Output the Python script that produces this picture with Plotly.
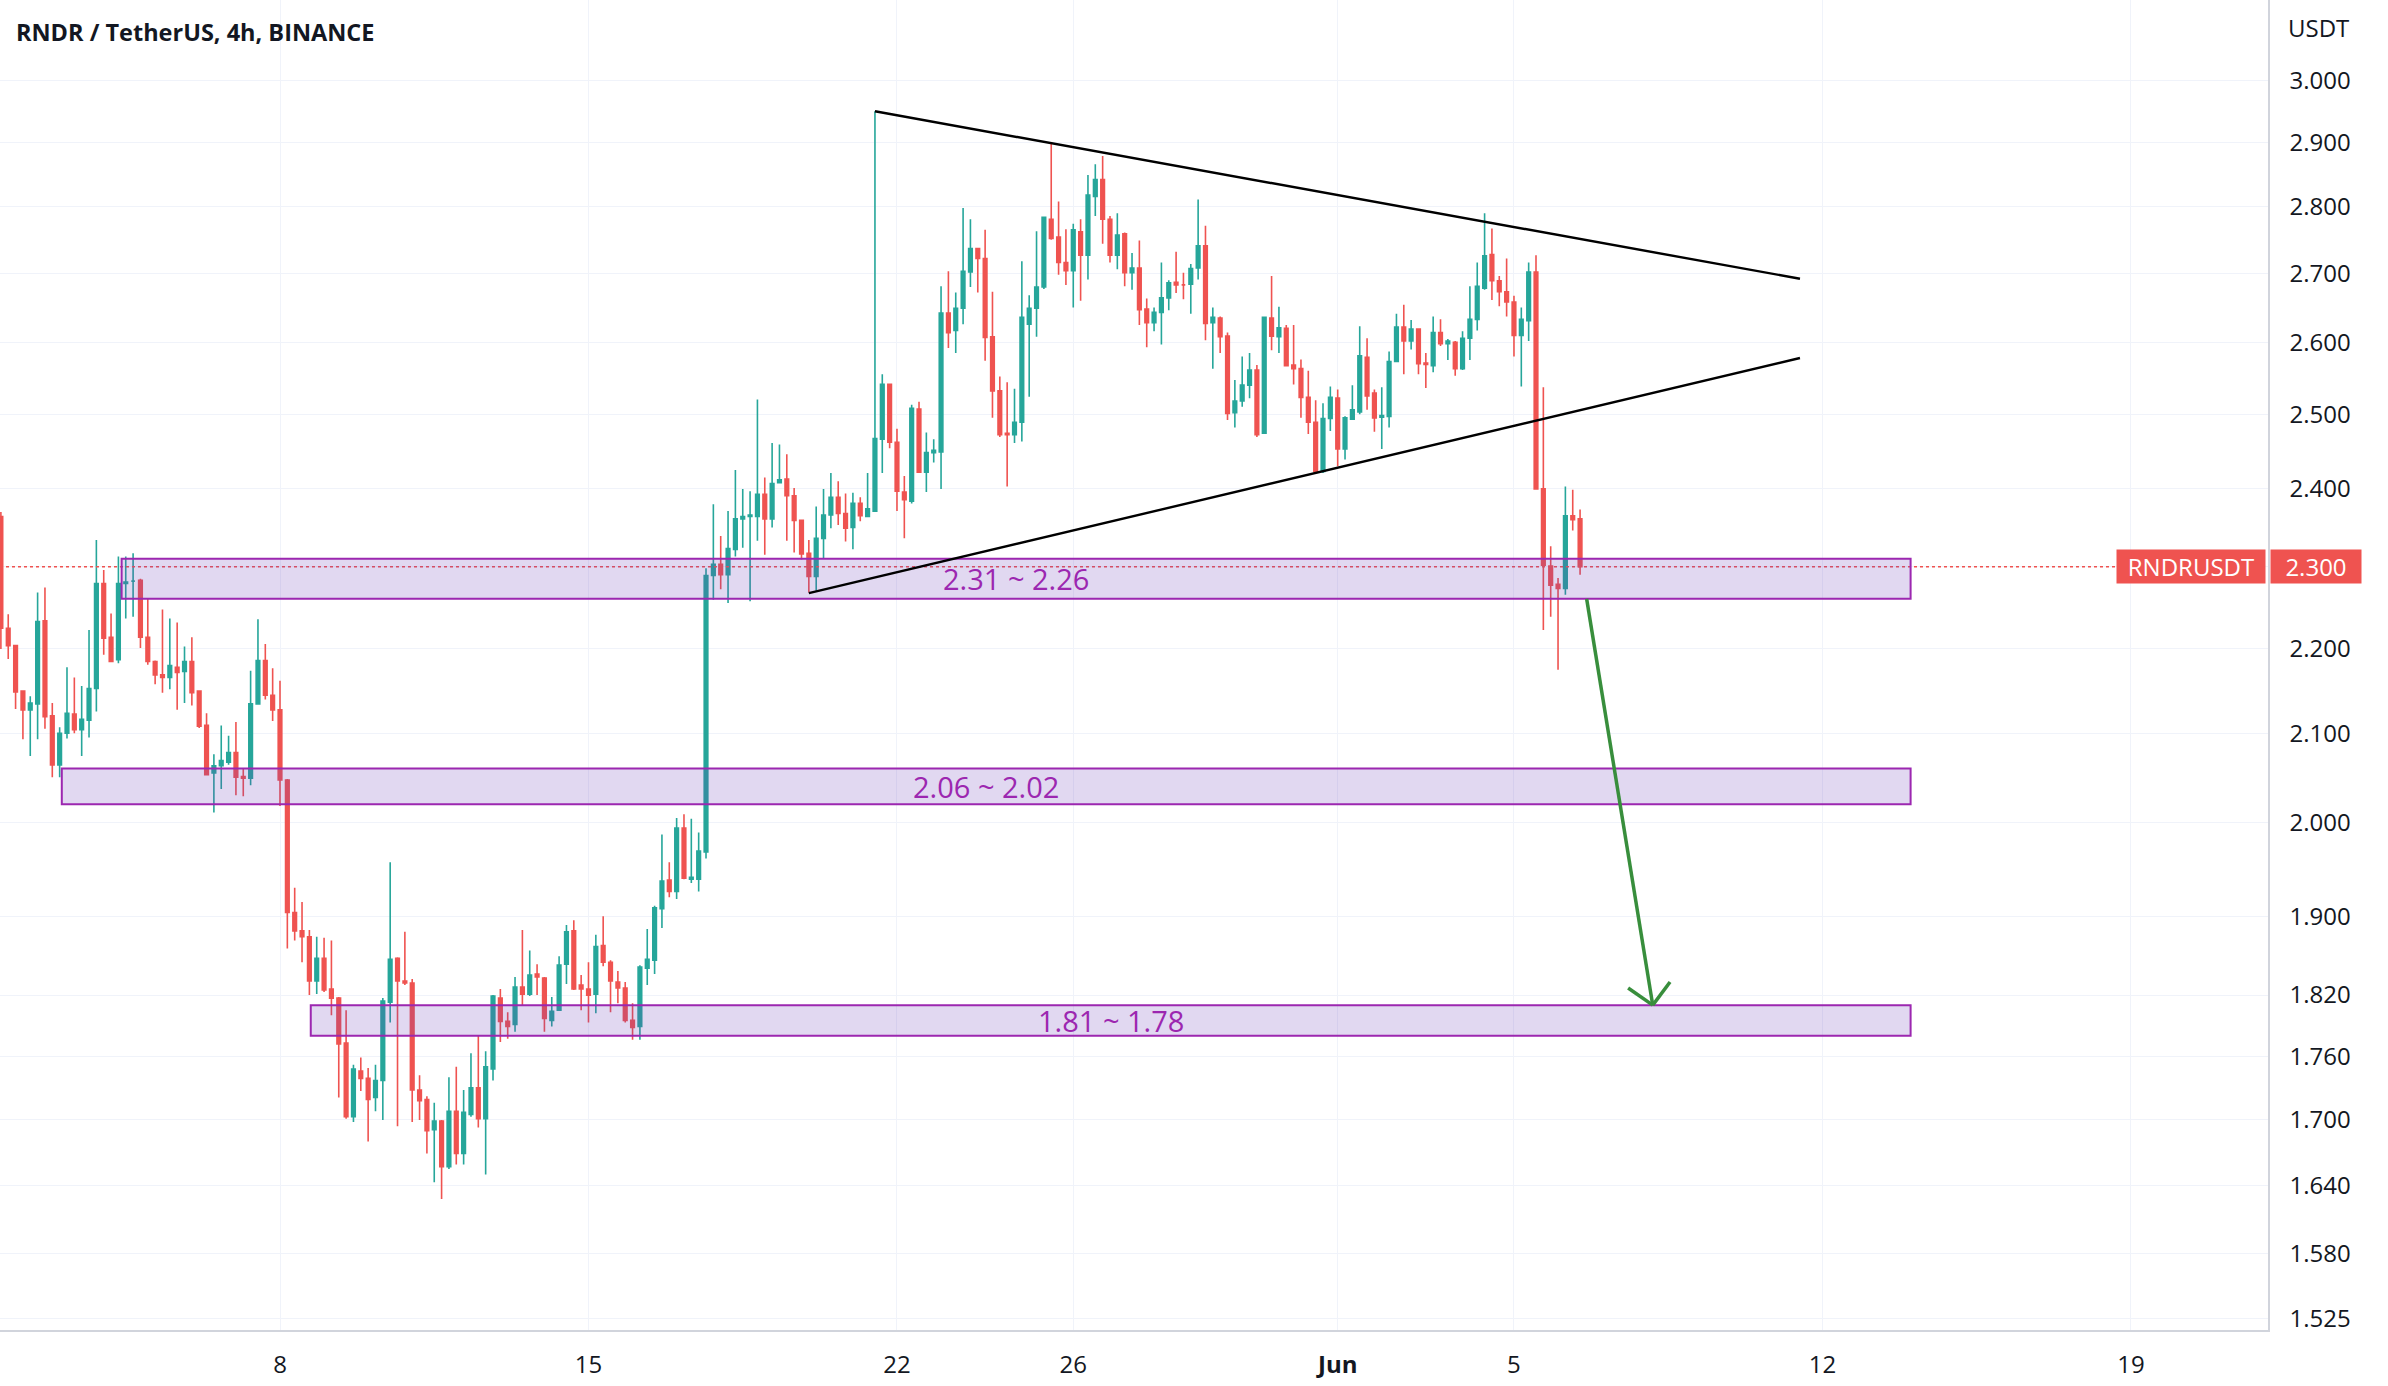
import numpy as np
import pandas as pd
import plotly.graph_objects as go

# ---------------- data ----------------
first_bar = "2023-05-01 16:00"   # 4h bars

opens = [2.364, 2.224, 2.203, 2.149, 2.127, 2.134, 2.233, 2.120, 2.064, 2.100,
         2.122, 2.104, 2.115, 2.152, 2.279, 2.213, 2.186, 2.279, 2.282, 2.283,
         2.213, 2.184, 2.168, 2.165, 2.177, 2.172, 2.184, 2.149, 2.109, 2.055,
         2.063, 2.067, 2.078, 2.051, 2.049, 2.134, 2.185, 2.144, 2.127, 2.047,
         1.904, 1.885, 1.879, 1.834, 1.857, 1.826, 1.817, 1.773, 1.703, 1.746,
         1.739, 1.721, 1.737, 1.813, 1.857, 1.834, 1.832, 1.728, 1.719, 1.691,
         1.699, 1.657, 1.708, 1.669, 1.705, 1.730, 1.701, 1.748, 1.817, 1.794,
         1.791, 1.828, 1.821, 1.841, 1.837, 1.795, 1.805, 1.851, 1.885, 1.830,
         1.826, 1.821, 1.870, 1.853, 1.833, 1.827, 1.795, 1.789, 1.847, 1.855,
         1.908, 1.938, 1.926, 1.994, 1.939, 1.939, 1.968, 2.289, 2.303, 2.290,
         2.322, 2.361, 2.364, 2.364, 2.393, 2.361, 2.408, 2.413, 2.391, 2.359,
         2.317, 2.288, 2.336, 2.366, 2.389, 2.368, 2.350, 2.381, 2.364, 2.371,
         2.466, 2.541, 2.462, 2.396, 2.384, 2.507, 2.422, 2.448, 2.449, 2.642,
         2.617, 2.649, 2.702, 2.737, 2.722, 2.608, 2.532, 2.474, 2.472, 2.489,
         2.626, 2.649, 2.680, 2.781, 2.754, 2.716, 2.704, 2.762, 2.727, 2.816,
         2.842, 2.781, 2.727, 2.759, 2.701, 2.708, 2.648, 2.628, 2.643, 2.664,
         2.687, 2.683, 2.684, 2.708, 2.741, 2.628, 2.635, 2.609, 2.502, 2.518,
         2.540, 2.561, 2.474, 2.635, 2.608, 2.620, 2.568, 2.563, 2.523, 2.489,
         2.423, 2.494, 2.522, 2.453, 2.493, 2.503, 2.579, 2.529, 2.496, 2.497,
         2.573, 2.622, 2.602, 2.619, 2.571, 2.567, 2.614, 2.598, 2.600, 2.563,
         2.606, 2.633, 2.678, 2.728, 2.689, 2.673, 2.658, 2.610, 2.631, 2.702,
         2.400, 2.301, 2.278, 2.273, 2.365, 2.361]

highs = [2.370, 2.241, 2.204, 2.150, 2.143, 2.268, 2.274, 2.135, 2.107, 2.177,
         2.165, 2.155, 2.222, 2.334, 2.296, 2.242, 2.313, 2.313, 2.317, 2.285,
         2.260, 2.185, 2.247, 2.236, 2.231, 2.202, 2.213, 2.150, 2.123, 2.076,
         2.109, 2.097, 2.113, 2.060, 2.173, 2.235, 2.205, 2.176, 2.161, 2.048,
         1.930, 1.915, 1.886, 1.879, 1.878, 1.875, 1.818, 1.805, 1.752, 1.759,
         1.749, 1.752, 1.817, 1.957, 1.858, 1.884, 1.836, 1.742, 1.722, 1.716,
         1.700, 1.740, 1.750, 1.728, 1.763, 1.780, 1.765, 1.820, 1.826, 1.803,
         1.838, 1.886, 1.865, 1.851, 1.838, 1.818, 1.859, 1.891, 1.896, 1.840,
         1.853, 1.881, 1.900, 1.855, 1.844, 1.833, 1.812, 1.850, 1.887, 1.911,
         1.987, 1.957, 2.005, 2.009, 2.004, 1.989, 2.298, 2.380, 2.339, 2.371,
         2.425, 2.400, 2.397, 2.520, 2.415, 2.461, 2.459, 2.446, 2.401, 2.360,
         2.334, 2.377, 2.400, 2.421, 2.410, 2.394, 2.395, 2.389, 2.421, 2.950,
         2.555, 2.542, 2.480, 2.417, 2.513, 2.517, 2.475, 2.466, 2.681, 2.703,
         2.672, 2.798, 2.781, 2.738, 2.765, 2.673, 2.552, 2.544, 2.535, 2.718,
         2.668, 2.763, 2.785, 2.900, 2.808, 2.766, 2.774, 2.781, 2.849, 2.866,
         2.879, 2.786, 2.790, 2.761, 2.730, 2.749, 2.663, 2.650, 2.716, 2.690,
         2.732, 2.701, 2.714, 2.811, 2.771, 2.650, 2.637, 2.614, 2.547, 2.580,
         2.585, 2.568, 2.637, 2.696, 2.651, 2.625, 2.625, 2.576, 2.560, 2.519,
         2.515, 2.538, 2.534, 2.497, 2.540, 2.623, 2.606, 2.534, 2.537, 2.587,
         2.641, 2.654, 2.632, 2.620, 2.585, 2.637, 2.633, 2.605, 2.602, 2.616,
         2.681, 2.716, 2.790, 2.767, 2.696, 2.722, 2.667, 2.650, 2.716, 2.727,
         2.537, 2.326, 2.286, 2.403, 2.399, 2.373]

lows = [2.199, 2.187, 2.128, 2.093, 2.074, 2.093, 2.105, 2.050, 2.050, 2.094,
        2.100, 2.074, 2.095, 2.125, 2.192, 2.184, 2.182, 2.236, 2.238, 2.200,
        2.180, 2.157, 2.147, 2.151, 2.127, 2.135, 2.132, 2.106, 2.052, 2.011,
        2.037, 2.064, 2.030, 2.029, 2.041, 2.134, 2.139, 2.114, 2.018, 1.867,
        1.875, 1.853, 1.820, 1.821, 1.823, 1.800, 1.721, 1.701, 1.698, 1.727,
        1.680, 1.708, 1.700, 1.793, 1.694, 1.830, 1.698, 1.700, 1.669, 1.643,
        1.628, 1.655, 1.659, 1.659, 1.703, 1.693, 1.650, 1.737, 1.774, 1.777,
        1.784, 1.810, 1.819, 1.820, 1.784, 1.789, 1.805, 1.831, 1.825, 1.805,
        1.793, 1.802, 1.849, 1.803, 1.812, 1.793, 1.776, 1.776, 1.830, 1.841,
        1.888, 1.920, 1.918, 1.939, 1.935, 1.926, 1.961, 2.259, 2.272, 2.255,
        2.313, 2.324, 2.257, 2.333, 2.315, 2.350, 2.407, 2.333, 2.318, 2.309,
        2.268, 2.270, 2.310, 2.349, 2.353, 2.332, 2.322, 2.358, 2.364, 2.370,
        2.421, 2.454, 2.371, 2.336, 2.381, 2.421, 2.396, 2.435, 2.400, 2.592,
        2.585, 2.626, 2.680, 2.672, 2.574, 2.495, 2.469, 2.403, 2.461, 2.463,
        2.524, 2.608, 2.677, 2.750, 2.698, 2.683, 2.650, 2.660, 2.691, 2.786,
        2.744, 2.716, 2.706, 2.681, 2.676, 2.625, 2.593, 2.616, 2.597, 2.646,
        2.671, 2.662, 2.641, 2.691, 2.603, 2.563, 2.585, 2.492, 2.482, 2.510,
        2.522, 2.469, 2.474, 2.589, 2.585, 2.567, 2.541, 2.495, 2.473, 2.421,
        2.421, 2.477, 2.430, 2.439, 2.492, 2.500, 2.506, 2.476, 2.453, 2.482,
        2.573, 2.555, 2.590, 2.555, 2.536, 2.558, 2.595, 2.575, 2.553, 2.561,
        2.575, 2.617, 2.676, 2.661, 2.652, 2.637, 2.580, 2.538, 2.602, 2.400,
        2.222, 2.238, 2.174, 2.265, 2.346, 2.290]

closes = [2.224, 2.203, 2.148, 2.127, 2.135, 2.232, 2.119, 2.064, 2.100, 2.123,
          2.104, 2.116, 2.152, 2.279, 2.212, 2.184, 2.279, 2.281, 2.282, 2.213,
          2.184, 2.168, 2.165, 2.179, 2.171, 2.184, 2.147, 2.108, 2.053, 2.063,
          2.069, 2.078, 2.050, 2.049, 2.134, 2.185, 2.144, 2.127, 2.047, 1.904,
          1.885, 1.879, 1.834, 1.857, 1.825, 1.817, 1.772, 1.703, 1.748, 1.739,
          1.719, 1.737, 1.814, 1.856, 1.834, 1.832, 1.728, 1.718, 1.690, 1.699,
          1.657, 1.708, 1.669, 1.707, 1.730, 1.701, 1.750, 1.819, 1.794, 1.789,
          1.828, 1.821, 1.840, 1.838, 1.797, 1.804, 1.850, 1.884, 1.826, 1.826,
          1.820, 1.869, 1.853, 1.834, 1.827, 1.795, 1.788, 1.848, 1.856, 1.909,
          1.937, 1.926, 1.994, 1.940, 1.941, 1.969, 2.289, 2.303, 2.290, 2.323,
          2.361, 2.364, 2.366, 2.393, 2.361, 2.407, 2.412, 2.391, 2.359, 2.316,
          2.288, 2.336, 2.366, 2.389, 2.368, 2.349, 2.381, 2.365, 2.374, 2.467,
          2.541, 2.462, 2.397, 2.386, 2.508, 2.422, 2.448, 2.451, 2.642, 2.614,
          2.649, 2.703, 2.737, 2.722, 2.607, 2.532, 2.472, 2.472, 2.489, 2.636,
          2.649, 2.680, 2.784, 2.752, 2.716, 2.704, 2.765, 2.727, 2.818, 2.842,
          2.781, 2.727, 2.757, 2.701, 2.708, 2.647, 2.628, 2.643, 2.664, 2.686,
          2.683, 2.683, 2.707, 2.741, 2.627, 2.636, 2.608, 2.501, 2.518, 2.540,
          2.561, 2.472, 2.636, 2.609, 2.621, 2.567, 2.563, 2.523, 2.489, 2.423,
          2.494, 2.523, 2.453, 2.495, 2.506, 2.581, 2.525, 2.495, 2.498, 2.573,
          2.622, 2.602, 2.619, 2.570, 2.569, 2.614, 2.598, 2.602, 2.563, 2.606,
          2.633, 2.681, 2.726, 2.689, 2.673, 2.658, 2.610, 2.633, 2.702, 2.400,
          2.302, 2.277, 2.273, 2.365, 2.360, 2.300]

# price axis ticks
price_ticks = [1.525, 1.580, 1.640, 1.700, 1.760, 1.820, 1.900, 2.000, 2.100, 2.200,
               2.300, 2.400, 2.500, 2.600, 2.700, 2.800, 2.900, 3.000]
# time axis ticks
date_ticks = ["2023-05-08", "2023-05-15", "2023-05-22", "2023-05-26",
              "2023-06-01", "2023-06-05", "2023-06-12", "2023-06-19"]
date_tick_labels = ["8", "15", "22", "26", "<b>Jun</b>", "5", "12", "19"]

# support zones (top, bottom, start, end)
zone_tops = [2.31, 2.06, 1.81]
zone_bottoms = [2.26, 2.02, 1.78]
zone_starts = ["2023-05-04 09:45", "2023-05-03 01:10", "2023-05-08 16:45"]
zone_end = "2023-06-14 00:00"
zone_labels = ["2.31 ~ 2.26", "2.06 ~ 2.02", "1.81 ~ 1.78"]

# triangle trend lines
upper_line_t = ["2023-05-21 12:00", "2023-06-11 11:45"]
upper_line_p = [2.950, 2.692]
lower_line_t = ["2023-05-20 00:00", "2023-06-11 11:45"]
lower_line_p = [2.267, 2.578]

# projection arrow
arrow_t = ["2023-06-06 15:35", "2023-06-08 03:35"]
arrow_p = [2.26, 1.81]
arrow_wing_t = ["2023-06-07 14:10", "2023-06-08 13:00"]
arrow_wing_p = [1.827, 1.833]

last_price = 2.300
x_view = ["2023-05-01 15:31", "2023-06-22 02:38"]
y_view = [1.5156, 3.135]

# ---------------- figure ----------------
UP = "#26a69a"
DOWN = "#ef5350"
PURPLE = "#9c27b0"
TEXT = "#131722"
GRID = "#f0f3fa"
FONT = "Open Sans"

times = pd.date_range(first_bar, periods=len(opens), freq="4h")

fig = go.Figure()
fig.add_trace(go.Candlestick(
    x=times, open=opens, high=highs, low=lows, close=closes,
    increasing=dict(line=dict(color=UP, width=1.6), fillcolor=UP),
    decreasing=dict(line=dict(color=DOWN, width=1.6), fillcolor=DOWN),
    whiskerwidth=0, hoverinfo="skip", showlegend=False,
))

shapes = []
annotations = []

# last price dotted line
shapes.append(dict(type="line", xref="paper", x0=0, x1=1, yref="y",
                   y0=last_price, y1=last_price,
                   line=dict(color=DOWN, width=1.5, dash="dot"), layer="above"))

# zones
for top, bot, t0, lab in zip(zone_tops, zone_bottoms, zone_starts, zone_labels):
    shapes.append(dict(type="rect", xref="x", yref="y", x0=t0, x1=zone_end,
                       y0=bot, y1=top, fillcolor="rgba(103,58,183,0.2)",
                       line=dict(color=PURPLE, width=2), layer="above"))
    tmid = pd.Timestamp(t0) + (pd.Timestamp(zone_end) - pd.Timestamp(t0)) / 2
    annotations.append(dict(x=tmid, y=np.log10(np.sqrt(top * bot)), xref="x", yref="y",
                            text=lab, showarrow=False,
                            font=dict(family=FONT, size=29, color=PURPLE),
                            xanchor="center", yanchor="middle"))

# triangle lines
for ts, ps in ((upper_line_t, upper_line_p), (lower_line_t, lower_line_p)):
    shapes.append(dict(type="line", xref="x", yref="y", x0=ts[0], x1=ts[1],
                       y0=ps[0], y1=ps[1], line=dict(color="#000000", width=2.4),
                       layer="above"))

# arrow
GREEN = "#388e3c"
shapes.append(dict(type="line", xref="x", yref="y", x0=arrow_t[0], x1=arrow_t[1],
                   y0=arrow_p[0], y1=arrow_p[1], line=dict(color=GREEN, width=3.5),
                   layer="above"))
for wt, wp in zip(arrow_wing_t, arrow_wing_p):
    shapes.append(dict(type="line", xref="x", yref="y", x0=arrow_t[1], x1=wt,
                       y0=arrow_p[1], y1=wp, line=dict(color=GREEN, width=3.5),
                       layer="above"))

# title
annotations.append(dict(xref="paper", yref="paper", x=14 / 2268, y=1 - 32 / 1330,
                        text="<b>RNDR / TetherUS, 4h, BINANCE</b>", showarrow=False,
                        xanchor="left", yanchor="middle",
                        font=dict(family=FONT, size=23.5, color=TEXT)))
# currency label
annotations.append(dict(xref="paper", yref="paper", x=2286 / 2268, y=1 - 27 / 1330,
                        text="USDT", showarrow=False, xanchor="left", yanchor="middle",
                        font=dict(family=FONT, size=24, color=TEXT)))
# last price tag
annotations.append(dict(xref="paper", yref="y", x=2266 / 2268, y=np.log10(last_price),
                        text="RNDRUSDT", showarrow=False, xanchor="right", yanchor="middle",
                        bgcolor=DOWN, width=146, height=31, borderpad=1,
                        font=dict(family=FONT, size=24, color="#ffffff")))
annotations.append(dict(xref="paper", yref="y", x=2270 / 2268, y=np.log10(last_price),
                        text="2.300", showarrow=False, xanchor="left", yanchor="middle",
                        bgcolor=DOWN, width=88, height=31, borderpad=1,
                        font=dict(family=FONT, size=24, color="#ffffff")))

fig.update_layout(
    width=2388, height=1386,
    margin=dict(l=0, r=120, t=0, b=56),
    paper_bgcolor="#ffffff", plot_bgcolor="#ffffff",
    shapes=shapes, annotations=annotations,
    showlegend=False, hovermode=False,
    font=dict(family=FONT, color=TEXT),
)
fig.update_xaxes(
    type="date", range=x_view, rangeslider=dict(visible=False),
    tickmode="array", tickvals=date_ticks, ticktext=date_tick_labels,
    showgrid=True, gridcolor=GRID, gridwidth=1,
    showline=True, linecolor="#d1d4dc", linewidth=1.5,
    ticks="", tickfont=dict(family=FONT, size=24, color=TEXT),
    ticklabelstandoff=12, zeroline=False,
)
fig.update_yaxes(
    type="log", side="right", range=[np.log10(y_view[0]), np.log10(y_view[1])],
    tickmode="array", tickvals=price_ticks,
    ticktext=[f"{v:.3f}" for v in price_ticks],
    showgrid=True, gridcolor=GRID, gridwidth=1,
    showline=True, linecolor="#d1d4dc", linewidth=1.5,
    ticks="", tickfont=dict(family=FONT, size=24, color=TEXT),
    ticklabelstandoff=15, zeroline=False,
)

fig.write_html("out.html")
